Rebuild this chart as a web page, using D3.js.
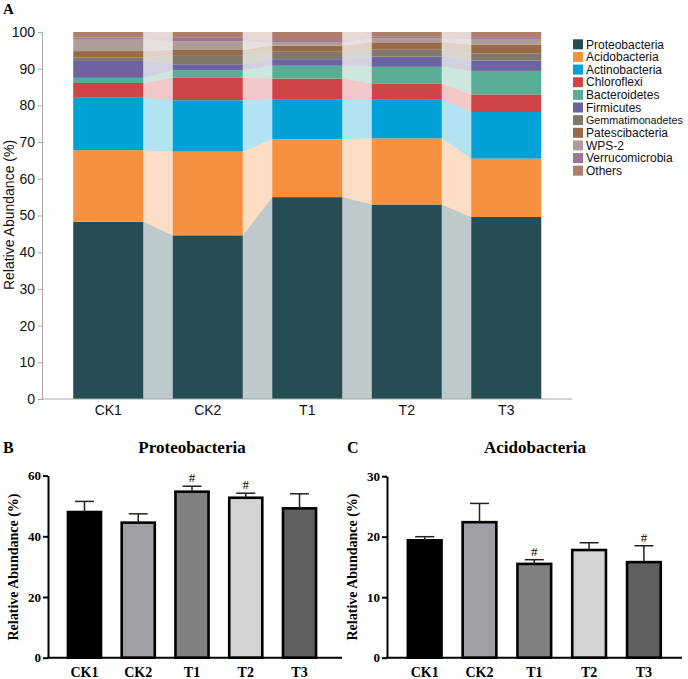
<!DOCTYPE html>
<html><head><meta charset="utf-8">
<script src="https://cdn.jsdelivr.net/npm/d3@7"></script>
<style>body{margin:0;background:#fff}svg{display:block}</style>
</head><body>
<svg id="c" width="688" height="679"></svg>
<script>
// ---------- data ----------
const groups = ["CK1", "CK2", "T1", "T2", "T3"];
const phyla = ["Proteobacteria","Acidobacteria","Actinobacteria","Chloroflexi","Bacteroidetes","Firmicutes","Gemmatimonadetes","Patescibacteria","WPS-2","Verrucomicrobia","Others"];
const proteobacteria   = [48.3, 44.6, 55.0, 53.0, 49.6];
const acidobacteria    = [19.5, 22.8, 15.8, 18.0, 15.9];
const actinobacteria   = [14.3, 14.0, 10.9, 10.7, 12.7];
const chloroflexi      = [4.0, 6.1, 5.6, 4.3, 4.8];
const bacteroidetes    = [1.4, 2.1, 3.5, 4.5, 6.4];
const firmicutes       = [4.6, 1.6, 1.8, 2.8, 2.8];
const gemmatimonadetes = [1.0, 2.5, 2.0, 2.0, 2.0];
const patescibacteria  = [1.7, 1.4, 1.7, 1.9, 2.3];
const wps2             = [3.3, 2.3, 0.8, 1.1, 1.6];
const verrucomicrobia  = [0.4, 1.0, 0.7, 0.4, 0.5];
const others           = [1.5, 1.6, 2.2, 1.3, 1.4];
const phylaColors = ["#264c54","#f7913f","#00a1d6","#cf4547","#58ae94","#6c64a0","#807868","#9a6a48","#ad9d93","#9c7499","#ad7f6b"];
const yTicksA = [0,10,20,30,40,50,60,70,80,90,100];

const proteoMean = [48.0, 44.5, 54.7, 52.7, 49.2];
const proteoSD   = [3.5, 2.9, 1.8, 1.5, 4.8];
const proteoSig  = ["", "", "#", "#", ""];
const acidoMean  = [19.4, 22.4, 15.5, 17.8, 15.8];
const acidoSD    = [0.6, 3.1, 0.7, 1.2, 2.7];
const acidoSig   = ["", "", "#", "", "#"];
const groupColors = ["#000000","#a0a0a4","#808080","#d3d3d3","#5f5f5f"];
const yTicksB = [0,20,40,60];
const yTicksC = [0,10,20,30];

// ---------- panel A ----------
const svg = d3.select("#c");
const seriesArrays = [proteobacteria,acidobacteria,actinobacteria,chloroflexi,bacteroidetes,firmicutes,gemmatimonadetes,patescibacteria,wps2,verrucomicrobia,others];
const rows = groups.map((g,i)=>{const r={group:g}; phyla.forEach((p,j)=>r[p]=seriesArrays[j][i]); return r;});
const stack = d3.stack().keys(phyla)(rows);

const xA = d3.scaleBand().domain(groups).range([58.5, 556]).paddingInner(0.296).paddingOuter(0.148);
const yA = d3.scaleLinear().domain([0,100]).range([399, 32]);
const gA = svg.append("g");
const bw = xA.bandwidth();

// connectors
stack.forEach((s,j)=>{
  for(let i=0;i<groups.length-1;i++){
    const a = s[i], b = s[i+1];
    const pts = [{x:xA(groups[i])+bw, y0:a[0], y1:a[1]},{x:xA(groups[i+1]), y0:b[0], y1:b[1]}];
    gA.append("path")
      .attr("d", d3.area().x(d=>d.x).y0(d=>yA(d.y0)).y1(d=>yA(d.y1))(pts))
      .attr("fill", phylaColors[j]).attr("fill-opacity",0.3);
  }
});
// bars
stack.forEach((s,j)=>{
  gA.selectAll(null).data(s).enter().append("rect")
    .attr("x",d=>xA(d.data.group)).attr("width",bw)
    .attr("y",d=>yA(d[1])).attr("height",d=>yA(d[0])-yA(d[1]))
    .attr("fill",phylaColors[j]);
});
// axes
const axY = gA.append("g").attr("transform","translate(42,0)")
  .call(d3.axisLeft(yA).tickValues(yTicksA).tickSize(4).tickPadding(3));
axY.select(".domain").attr("stroke","#a6a6a6");
axY.selectAll(".tick line").attr("stroke","#a6a6a6");
axY.selectAll("text").attr("font-family","Liberation Sans, Arial").attr("font-size",14).attr("fill","#111");
gA.append("line").attr("x1",42).attr("x2",572).attr("y1",399).attr("y2",399).attr("stroke","#a6a6a6");
gA.selectAll(null).data(groups).enter().append("text")
  .attr("x",d=>xA(d)+bw/2).attr("y",415).attr("text-anchor","middle")
  .attr("font-family","Liberation Sans, Arial").attr("font-size",14).attr("fill","#111").text(d=>d);
gA.append("text").attr("transform","translate(14,215) rotate(-90)").attr("text-anchor","middle")
  .attr("font-family","Liberation Sans, Arial").attr("font-size",14).attr("fill","#111").text("Relative Abundance (%)");
svg.append("text").attr("x",3).attr("y",14).attr("font-family","Liberation Serif, Times New Roman").attr("font-weight","bold").attr("font-size",15).text("A");

// legend
const leg = svg.append("g");
phyla.forEach((p,j)=>{
  const cy = 44.3 + j*12.64;
  leg.append("rect").attr("x",573).attr("y",cy-5).attr("width",10).attr("height",10).attr("fill",phylaColors[j]);
  const t = leg.append("text").attr("x",586).attr("y",cy+4.2).attr("font-family","Liberation Sans, Arial").attr("font-size",12).attr("fill","#111").text(p);
  const w = t.node().getComputedTextLength();
  if (586 + w > 684) t.attr("font-size", (12 * 97 / w).toFixed(2));
});

// ---------- panels B & C ----------
function barPanel(opt){
  const g = svg.append("g");
  const x = d3.scaleBand().domain(groups).range(opt.xr).paddingInner(0.385).paddingOuter(0.1925);
  const y = d3.scaleLinear().domain([0,opt.max]).range([657.7, opt.top]);
  const serif = "Liberation Serif, Times New Roman";
  // bars
  g.selectAll(null).data(opt.mean).enter().append("rect")
    .attr("x",(d,i)=>x(groups[i])).attr("width",x.bandwidth())
    .attr("y",d=>y(d)).attr("height",d=>y(0)-y(d))
    .attr("fill",(d,i)=>groupColors[i]).attr("stroke","#000").attr("stroke-width",2.6);
  // error bars
  opt.mean.forEach((m,i)=>{
    const cx = x(groups[i])+x.bandwidth()/2, yt = y(m+opt.sd[i]);
    g.append("line").attr("x1",cx).attr("x2",cx).attr("y1",y(m)).attr("y2",yt).attr("stroke","#222").attr("stroke-width",1.5);
    g.append("line").attr("x1",cx-9.5).attr("x2",cx+9.5).attr("y1",yt).attr("y2",yt).attr("stroke","#222").attr("stroke-width",1.5);
    if(opt.sig[i]) g.append("text").attr("x",cx).attr("y",yt-4).attr("text-anchor","middle")
      .attr("font-family",serif).attr("font-size",13).text(opt.sig[i]);
  });
  // y axis
  const ay = g.append("g").attr("transform",`translate(${opt.ax},0)`)
    .call(d3.axisLeft(y).tickValues(opt.ticks).tickSize(5).tickPadding(2).tickSizeOuter(0));
  ay.select(".domain").attr("stroke","#000").attr("stroke-width",2);
  ay.selectAll(".tick line").attr("stroke","#000").attr("stroke-width",2);
  ay.selectAll("text").attr("font-family",serif).attr("font-weight","bold").attr("font-size",13).attr("fill","#000");
  // x axis
  g.append("line").attr("x1",opt.ax-1).attr("x2",opt.xend).attr("y1",y(0)).attr("y2",y(0)).attr("stroke","#000").attr("stroke-width",2);
  g.selectAll(null).data(groups).enter().append("text")
    .attr("x",d=>x(d)+x.bandwidth()/2).attr("y",677).attr("text-anchor","middle")
    .attr("font-family",serif).attr("font-weight","bold").attr("font-size",14).text(d=>d);
  g.append("text").attr("transform",`translate(${opt.ax-30},567) rotate(-90)`).attr("text-anchor","middle")
    .attr("font-family",serif).attr("font-weight","bold").attr("font-size",14).text("Relative Abundance (%)");
  g.append("text").attr("x",opt.titleX).attr("y",453).attr("text-anchor","middle")
    .attr("font-family",serif).attr("font-weight","bold").attr("font-size",17).text(opt.title);
  g.append("text").attr("x",opt.letterX).attr("y",453)
    .attr("font-family",serif).attr("font-weight","bold").attr("font-size",16).text(opt.letter);
}
barPanel({xr:[57.6,326.4], ax:48, xend:342, max:60, top:475.6, ticks:yTicksB, mean:proteoMean, sd:proteoSD, sig:proteoSig, title:"Proteobacteria", titleX:192, letter:"B", letterX:3});
barPanel({xr:[397.3,671.3], ax:387, xend:682, max:30, top:476.2, ticks:yTicksC, mean:acidoMean, sd:acidoSD, sig:acidoSig, title:"Acidobacteria", titleX:535, letter:"C", letterX:347});
</script>
</body></html>
